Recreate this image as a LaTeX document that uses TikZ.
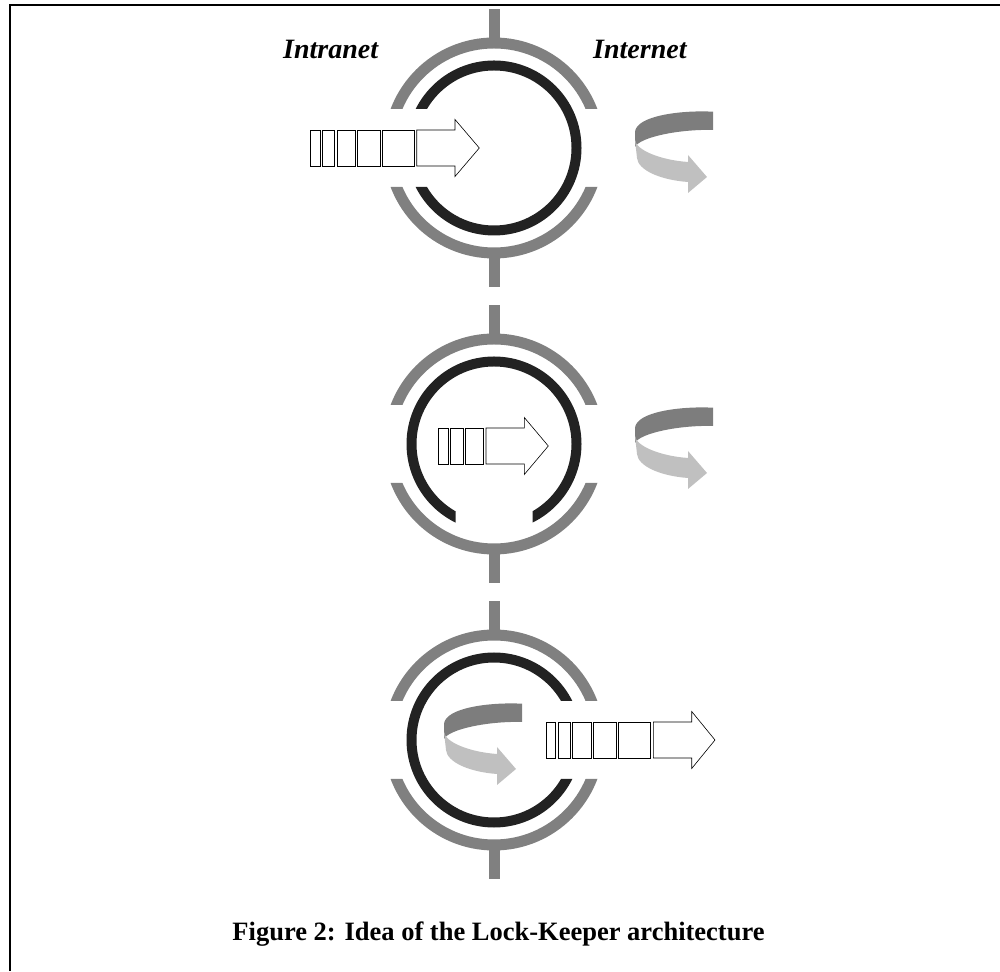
\documentclass[tikz,border=0pt]{standalone}
\usepackage{fontspec}
\setmainfont{Liberation Serif}
\usetikzlibrary{calc}

\definecolor{ringgrey}{RGB}{128,128,128}
\definecolor{ringblack}{RGB}{34,34,34}
\definecolor{ribdark}{RGB}{125,125,125}
\definecolor{riblight}{RGB}{192,192,192}

\tikzset{
	outerring/.style={draw=ringgrey, line width=11pt},
	innerring/.style={draw=ringblack, line width=10pt},
	stem/.style={draw=ringgrey, line width=11pt},
	packet/.style={draw=black, line width=0.9pt, fill=white},
	flow/.style={draw=black, line width=0.6pt, fill=white},
	netlabel/.style={inner sep=0pt, anchor=base west, font=\fontsize{28}{30}\selectfont\bfseries\itshape},
	captext/.style={inner sep=0pt, anchor=base, font=\fontsize{26.5}{28}\selectfont\bfseries},
	ribbon/.pic={
		\fill[ribdark] (33,28.3) .. controls (0,30) and (-44,24) .. (-45,8) -- (-45,-7) .. controls (-40,3) and (0,11) .. (33,10) -- cycle;
		\fill[riblight] (-45,0) .. controls (-44,-10) and (-20,-20) .. (8,-22) -- (8,-15) -- (27,-37) -- (8,-53) -- (8,-42) .. controls (-20,-40) and (-42,-30) .. (-43,-18) -- cycle;
	}
}

\begin{document}
\begin{tikzpicture}[x=1pt, y=1pt]
	\useasboundingbox (0,0) rectangle (1000,971);
	\coordinate (fbl) at (10,0);
	\coordinate (ftl) at (10,966);
	\coordinate (ftr) at (1000,966);
	\draw[line width=1.8pt] (fbl) -- (ftl) -- (ftr);

	\coordinate (top) at (494,823);
	\coordinate (mid) at (494,527);
	\coordinate (bot) at (494,231);

	% grey rings, cut flat at the sides
	\foreach \c in {top,mid,bot}{
		\begin{scope}
			\clip ($(\c)+(-130,39)$) rectangle ($(\c)+(130,130)$)
				($(\c)+(-130,-39)$) rectangle ($(\c)+(130,-130)$);
			\draw[outerring] (\c) circle[radius=105pt];
		\end{scope}
		\draw[stem] ($(\c)+(0,105)$) -- ($(\c)+(0,139)$);
		\draw[stem] ($(\c)+(0,-105)$) -- ($(\c)+(0,-139)$);
	}

	% black rings with one open gate
	\begin{scope}
		\clip ($(top)+(-100,100)$) -- ($(top)+(100,100)$) -- ($(top)+(100,-100)$) -- ($(top)+(-100,-100)$)
			-- ($(top)+(-100,-39)$) -- ($(top)+(0,-39)$) -- ($(top)+(0,39)$) -- ($(top)+(-100,39)$) -- cycle;
		\draw[innerring] (top) circle[radius=82.5pt];
	\end{scope}
	\begin{scope}
		\clip ($(mid)+(-100,100)$) -- ($(mid)+(100,100)$) -- ($(mid)+(100,-100)$) -- ($(mid)+(38.5,-100)$)
			-- ($(mid)+(38.5,0)$) -- ($(mid)+(-38.5,0)$) -- ($(mid)+(-38.5,-100)$) -- ($(mid)+(-100,-100)$) -- cycle;
		\draw[innerring] (mid) circle[radius=82.5pt];
	\end{scope}
	\begin{scope}
		\clip ($(bot)+(-100,100)$) -- ($(bot)+(100,100)$) -- ($(bot)+(100,39)$) -- ($(bot)+(0,39)$)
			-- ($(bot)+(0,-39)$) -- ($(bot)+(100,-39)$) -- ($(bot)+(100,-100)$) -- ($(bot)+(-100,-100)$) -- cycle;
		\draw[innerring] (bot) circle[radius=82.5pt];
	\end{scope}

	% data packets
	\begin{scope}[shift={(top)}]
		\foreach \a/\b in {-184/-174, -171.3/-160, -156.7/-139, -136.7/-114, -111.3/-80}
			\draw[packet] (\a,-18) rectangle (\b,18);
		\draw[flow] (-77.3,18) -- (-39,18) -- (-39,28.5) -- (-14.7,0) -- (-39,-28.5) -- (-39,-18) -- (-77.3,-18) -- cycle;
	\end{scope}
	\begin{scope}[shift={($(mid)+(0,-2)$)}]
		\foreach \a/\b in {-55.7/-45.7, -44/-30.7, -28.7/-10.7}
			\draw[packet] (\a,-18) rectangle (\b,18);
		\draw[flow] (-8,18) -- (30.3,18) -- (30.3,28.5) -- (54.3,0) -- (30.3,-28.5) -- (30.3,-18) -- (-8,-18) -- cycle;
	\end{scope}
	\begin{scope}[shift={(bot)}]
		\foreach \a/\b in {52/61.7, 64.3/76.7, 78.7/97.7, 99.3/122.7, 124.7/156.7}
			\draw[packet] (\a,-18) rectangle (\b,18);
		\draw[flow] (159.3,18) -- (197.7,18) -- (197.7,28.5) -- (221,0) -- (197.7,-28.5) -- (197.7,-18) -- (159.3,-18) -- cycle;
	\end{scope}

	% turning ribbons
	\pic at ($(top)+(186,8)$) {ribbon};
	\pic at ($(mid)+(186,8)$) {ribbon};
	\pic at ($(bot)+(-5,8)$) {ribbon};

	\node[netlabel] (intranet) at (283,912.7) {Intranet};
	\node[netlabel] (internet) at (593,912.7) {Internet};
	\node[captext] (caption) at (498.5,31) {Figure 2: Idea of the Lock-Keeper architecture};
\end{tikzpicture}
\end{document}
